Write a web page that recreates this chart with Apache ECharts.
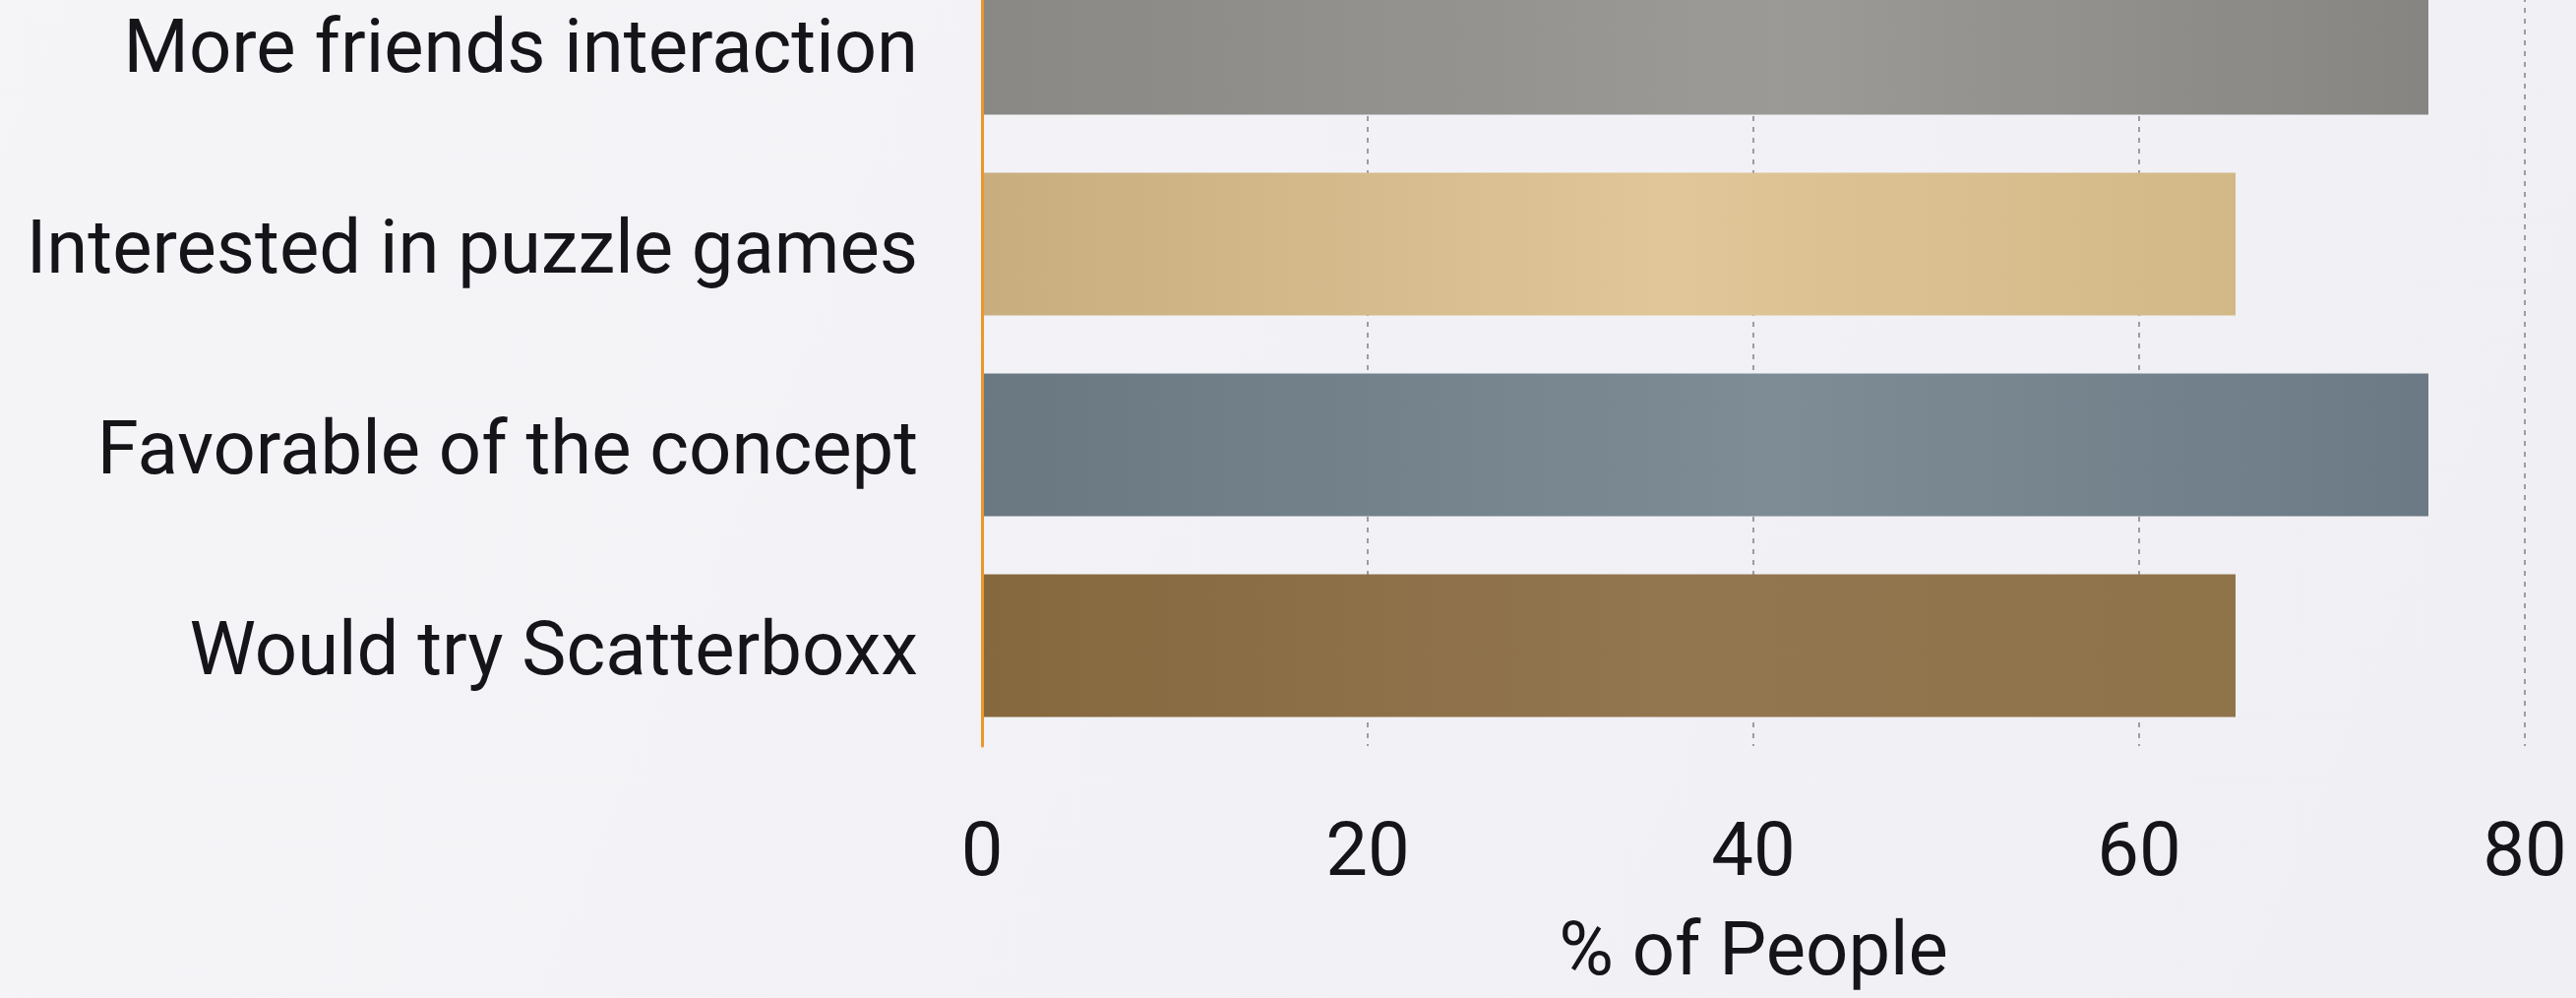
<!DOCTYPE html>
<html>
<head>
<meta charset="utf-8">
<script src="https://cdn.jsdelivr.net/npm/echarts@6/dist/echarts.min.js"></script>
<style>
  html, body { margin: 0; padding: 0; overflow: hidden; background: #f2f2f6; }
  /* the top band is cropped off in the original, so the chart sits partly above the window */
  #main { width: 2618px; height: 1072px; margin-top: -58px; }
</style>
</head>
<body>
<div id="main"></div>
<script>
// categories listed bottom to top (ECharts puts the first one at the bottom)
var categories = ['Would try Scatterboxx', 'Favorable of the concept', 'Interested in puzzle games', 'More friends interaction'];
var values = [65, 75, 65, 75];
var xTicks = [0, 20, 40, 60, 80];
var axisName = '% of People';

// paper-like textures, faked with soft gradients
var barColors = [
    ['#86683e', '#927650', '#8f7349'],
    ['#6a7882', '#7d8c95', '#6b7a84'],
    ['#c8ad7f', '#e0c698', '#d3b887'],
    ['#8a8885', '#9c9a97', '#878582']
];

var seriesData = values.map(function (v, i) {
    var c = barColors[i];
    return {
        value: v,
        itemStyle: {
            color: new echarts.graphic.LinearGradient(0, 0, 1, 0, [
                {offset: 0, color: c[0]},
                {offset: 0.55, color: c[1]},
                {offset: 1, color: c[2]}
            ])
        }
    };
});

var font = 'Roboto';
var textColor = '#141419';

option = {
    backgroundColor: new echarts.graphic.LinearGradient(0, 0, 1, 1, [
        {offset: 0, color: '#f5f5f8'},
        {offset: 1, color: '#efeff4'}
    ]),
    grid: {
        left: 998,
        right: 52,
        top: 0,
        bottom: 254
    },
    xAxis: {
        type: 'value',
        min: xTicks[0],
        max: xTicks[xTicks.length - 1],
        interval: xTicks[1] - xTicks[0],
        name: axisName,
        nameLocation: 'middle',
        nameGap: 175,
        nameTextStyle: {fontFamily: font, fontSize: 76, color: textColor},
        axisLine: {show: false},
        axisTick: {show: false},
        axisLabel: {fontFamily: font, fontSize: 76, color: textColor, margin: 74},
        splitLine: {
            show: true,
            lineStyle: {color: '#9c9ca3', width: 2, type: [5, 6]}
        }
    },
    yAxis: {
        type: 'category',
        data: categories,
        z: 10,
        axisLine: {show: true, lineStyle: {color: '#ea962e', width: 3}},
        axisTick: {show: false},
        axisLabel: {
            margin: 65,
            // nudge the text a little lower so the caps sit centred on the bars
            formatter: function (v) { return '{c|' + v + '}'; },
            rich: {
                c: {fontFamily: font, fontSize: 76, color: textColor, padding: [20, 0, 0, 0]}
            }
        },
        splitLine: {show: false}
    },
    series: [
        {
            type: 'bar',
            barWidth: 145,
            data: seriesData
        }
    ]
};

var myChart = echarts.init(document.getElementById('main'));
myChart.setOption(option);
</script>
</body>
</html>
